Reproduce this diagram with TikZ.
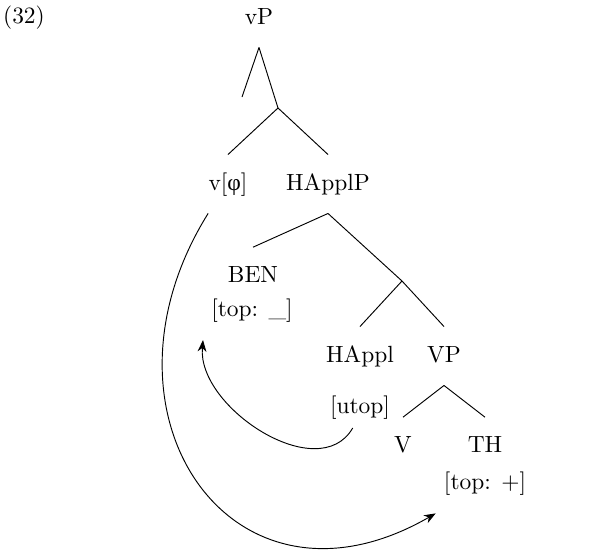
\documentclass[tikz,border=0pt]{standalone}
\usepackage{fontspec}
\newfontfamily\greek{Liberation Serif}
\usepackage{tikz}
\usetikzlibrary{arrows.meta}

\begin{document}
\begin{tikzpicture}[lab/.style={minimum height=0.87cm, text height=1.5ex, text depth=.3ex},
        mv/.style={-{Stealth[length=5pt,width=3.8pt]}}]
        \useasboundingbox (0,0) rectangle (9,-8.31);

        \node (ex) at (0.36,-0.26) {(32)};

        \node[lab] (vP) at (3.885,-0.27) {vP};
        \coordinate (e1) at (3.63,-1.455);
        \coordinate (b1) at (4.17,-1.62);
        \node[lab] (vphi) at (3.42,-2.76) {v[{\greek φ}]};
        \node[lab] (happlp) at (4.92,-2.76) {HApplP};
        \node[lab] (ben) at (3.795,-4.15) {BEN};
        \node (benf) at (3.78,-4.66) {[top: \_]};
        \coordinate (b2) at (6.03,-4.215);
        \node[lab] (happl) at (5.4,-5.34) {HAppl};
        \node[lab] (vp) at (6.66,-5.34) {VP};
        \node (utop) at (5.4,-6.12) {[utop]};
        \node[lab] (v) at (6.045,-6.70) {V};
        \node[lab] (th) at (7.275,-6.70) {TH};
        \node (thf) at (7.275,-7.26) {[top: +]};

        % vP
        \draw (vP.south) -- (e1);
        \draw (vP.south) -- (b1);
        \draw (b1) -- (vphi.north);
        \draw (b1) -- (happlp.north);

        % HApplP
        \draw (happlp.south) -- (ben.north);
        \draw (happlp.south) -- (b2);
        \draw (b2) -- (happl.north);
        \draw (b2) -- (vp.north);

        % VP
        \draw (vp.south) -- (v.north);
        \draw (vp.south) -- (th.north);

        % utop -> BEN
        \draw[mv] (utop.-110) to[out=-120,in=-95] ([yshift=-4pt]benf.south west);

        % v -> TH
        \draw[mv] (vphi.-124) to[out=-122,in=-150,looseness=1.6] ([yshift=-4pt]thf.south west);
    \end{tikzpicture}
\end{document}
